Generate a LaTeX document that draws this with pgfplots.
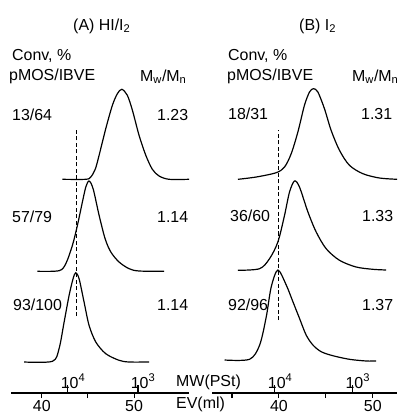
\documentclass[border=0pt]{standalone}
\usepackage{fontspec}
\setmainfont{Liberation Sans}
\usepackage{pgfplots}
\pgfplotsset{compat=1.18}

\begin{document}
\fontsize{16}{19}\selectfont
\begin{tikzpicture}[x=1bp,y=1bp]
\useasboundingbox (0,0) rectangle (411,414);
\pgfplotsset{
  panel/.style={
    scale only axis, height=393bp,
    ymin=0, ymax=393, clip=false,
    axis x line=bottom, axis y line=none,
    x axis line style={-, line width=1.1pt},
    tick align=outside, major tick length=5bp,
    tick style={black, line width=1.1pt},
    xticklabel style={font=\fontsize{16}{19}\selectfont, yshift=3bp},
    /pgf/number format/assume math mode=true,
  },
  gpc/.style={black, line width=1.2pt, smooth, tension=0.5, mark=none},
  vline/.style={black, line width=0.7pt, dash pattern=on 4bp off 2.5bp},
}
\tikzset{mwtick/.style={black, line width=1.1pt}}

% (A) HI/I2
\begin{axis}[panel, at={(12,21)}, anchor=south west, width=178bp,
  xmin=36.67, xmax=55.96,
  xtick={40,45,50}, xticklabels={40,,50}]
% 13/64
\addplot[gpc] coordinates {
  (42.23,213.7) (44.77,213.7) (45.31,216) (45.8,224) (46.21,237.7)
  (46.93,264.3) (47.65,287.7) (48.19,299.3) (48.67,303.7) (49.27,297.7)
  (49.82,282.7) (50.54,257.7) (51.27,237.7) (51.98,223.7) (52.71,217)
  (53.79,213.7) (55.96,213.7)
};
% 57/79
\addplot[gpc] coordinates {
  (39.52,121.7) (41.87,122.3) (42.60,129.3) (43.32,147.7) (43.86,167.7)
  (44.40,191) (44.77,206) (45.12,212) (45.56,204.3) (46.21,177.7)
  (46.86,154.3) (47.48,141) (48.37,131) (49.46,124.3) (50.54,122)
  (53.25,121.7)
};
% 93/100
\addplot[gpc] coordinates {
  (38.08,31) (41.15,31.7) (41.87,44.3) (42.42,71) (42.96,97.7)
  (43.39,114.3) (43.68,120.3) (44.04,114.3) (44.58,91) (45.12,67.7)
  (45.85,51) (46.93,39.3) (48.37,32.7) (49.46,31) (51.62,31)
};
\addplot[vline] coordinates {(43.75,77) (43.75,264.3)};
\draw[mwtick] (axis cs:42.74,0) -- (axis cs:42.74,8);
\draw[mwtick] (axis cs:50.43,0) -- (axis cs:50.43,8);
\node[anchor=base, xshift=6bp] at (axis cs:42.74,5) {10\textsuperscript{4}};
\node[anchor=base, xshift=5bp] at (axis cs:50.43,5) {10\textsuperscript{3}};
\end{axis}

% (B) I2
\begin{axis}[panel, at={(226,21)}, anchor=south west, width=185bp,
  xmin=32.9, xmax=52.6,
  xtick={35,40,45,50}, xticklabels={,40,,50}]
% 18/31
\addplot[gpc] coordinates {
  (35.64,213.7) (37.59,216) (39.71,220.3) (40.60,226) (41.31,239.3)
  (42.02,261) (42.72,287.7) (43.26,301) (43.68,304.3) (44.15,301)
  (44.85,284.3) (45.56,262.7) (46.45,242.7) (47.51,227.7) (48.94,219.3)
  (50.70,215) (52.58,213.7)
};
% 36/60
\addplot[gpc] coordinates {
  (35.64,122.7) (37.94,124.3) (39.00,134.3) (39.89,151) (40.60,177.7)
  (41.13,201) (41.66,212) (42.19,206) (43.09,181) (43.97,161)
  (45.03,144.3) (46.45,132.7) (48.22,126) (50.00,123.7) (51.41,123)
};
% 92/96
\addplot[gpc] coordinates {
  (34.21,33) (36.87,33.7) (37.94,47.7) (38.65,76) (39.18,106)
  (39.89,123) (40.78,108) (41.49,91.3) (42.19,74.7) (42.90,58)
  (43.62,48) (44.50,41.3) (45.74,37.3) (47.51,33.7) (49.29,32)
  (50.35,32)
};
\addplot[vline] coordinates {(39.89,73) (39.89,262.7)};
\draw[mwtick] (axis cs:39.50,0) -- (axis cs:39.50,8);
\draw[mwtick] (axis cs:47.87,0) -- (axis cs:47.87,8);
\node[anchor=base, xshift=6bp] at (axis cs:39.50,5) {10\textsuperscript{4}};
\node[anchor=base, xshift=5bp] at (axis cs:47.87,5) {10\textsuperscript{3}};
\end{axis}

\begin{scope}[every node/.style={anchor=base west, inner sep=0pt}]
\node at (73,384) {(A) HI/I\textsubscript{2}};
\node at (12,354) {Conv, \%};
\node at (9,334) {pMOS/IBVE};
\node at (140,333) {M\textsubscript{w}/M\textsubscript{n}};
\node at (12,294) {13/64};  \node at (157,294) {1.23};
\node at (12,192) {57/79};  \node at (157,192) {1.14};
\node at (13,104) {93/100}; \node at (157,104) {1.14};
\node at (299,384) {(B) I\textsubscript{2}};
\node at (228,354) {Conv, \%};
\node at (227,334) {pMOS/IBVE};
\node at (352,333) {M\textsubscript{w}/M\textsubscript{n}};
\node at (228,295) {18/31};  \node at (361,295) {1.31};
\node at (230,193) {36/60};  \node at (362,193) {1.33};
\node at (228,104) {92/96};  \node at (362,104) {1.37};
\node at (176,28) {MW(PSt)};
\node at (176,6) {EV(ml)};
\end{scope}
\end{tikzpicture}
\end{document}
